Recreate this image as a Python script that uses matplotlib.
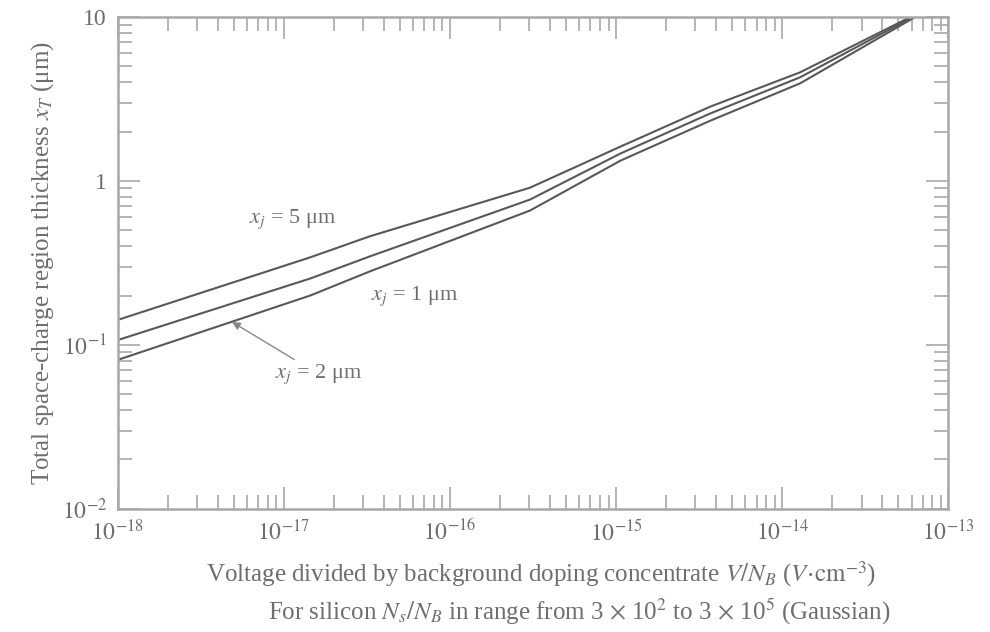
import matplotlib.pyplot as plt
import matplotlib.ticker as ticker
import numpy as np

plt.rcParams['font.family'] = ['Liberation Serif', 'DejaVu Serif']
plt.rcParams['mathtext.fontset'] = 'stix'

# values (x: V/N_B in V*cm^3, y: x_T in um)
x_5um = [1e-18, 1.44e-17, 3.30e-17, 3.03e-16, 1.06e-15, 3.68e-15, 1.28e-14, 5.9e-14]
y_5um = [0.142, 0.342, 0.460, 0.910, 1.62, 2.84, 4.60, 10.0]

x_2um = [1e-18, 1.44e-17, 3.30e-17, 3.03e-16, 1.06e-15, 3.68e-15, 1.28e-14, 6.1e-14]
y_2um = [0.107, 0.254, 0.347, 0.770, 1.47, 2.58, 4.29, 10.0]

x_1um = [1e-18, 1.44e-17, 3.30e-17, 3.03e-16, 1.06e-15, 3.68e-15, 1.28e-14, 6.3e-14]
y_1um = [0.081, 0.200, 0.281, 0.660, 1.33, 2.33, 3.94, 10.0]

x_ticks = [1e-18, 1e-17, 1e-16, 1e-15, 1e-14, 1e-13]
y_ticks = [1e-2, 1e-1, 1, 10]

text_col = '#6e6e6e'
line_col = '#585858'
axis_col = '#a8a8a8'

fig = plt.figure(figsize=(9.9, 6.32), dpi=100)
ax = fig.add_axes([0.119, 0.195, 0.839, 0.778])

ax.plot(x_5um, y_5um, color=line_col, lw=1.5)
ax.plot(x_2um, y_2um, color=line_col, lw=1.5)
ax.plot(x_1um, y_1um, color=line_col, lw=1.5)

ax.set_xscale('log')
ax.set_yscale('log')
ax.set_xlim(1e-18, 1e-13)
ax.set_ylim(1e-2, 10)


def y_fmt(v, pos):
    if v >= 1:
        return '%d' % round(v)
    return r'$10^{%d}$' % round(np.log10(v))


def x_fmt(v, pos):
    return r'$10^{%d}$' % round(np.log10(v))


ax.xaxis.set_major_locator(ticker.FixedLocator(x_ticks))
ax.yaxis.set_major_locator(ticker.FixedLocator(y_ticks))
ax.xaxis.set_minor_locator(ticker.LogLocator(base=10, subs=np.arange(2, 10), numticks=20))
ax.yaxis.set_minor_locator(ticker.LogLocator(base=10, subs=np.arange(2, 10), numticks=20))
ax.xaxis.set_major_formatter(ticker.FuncFormatter(x_fmt))
ax.yaxis.set_major_formatter(ticker.FuncFormatter(y_fmt))
ax.xaxis.set_minor_formatter(ticker.NullFormatter())
ax.yaxis.set_minor_formatter(ticker.NullFormatter())

ax.tick_params(which='both', direction='in', top=True, right=True,
               color=axis_col, labelcolor=text_col, labelsize=17, width=1.2)
ax.tick_params(which='major', length=16, pad=8)
ax.tick_params(which='minor', length=10)
for s in ax.spines.values():
    s.set_color(axis_col)
    s.set_linewidth(1.8)

ax.set_ylabel('Total space-charge region thickness $x_T$ (μm)',
              fontsize=18, color=text_col, labelpad=4)
ax.set_xlabel(r'Voltage divided by background doping concentrate $V/N_B$ ($V\!\cdot\!\mathrm{cm}^{-3}$)',
              fontsize=18, color=text_col)
ax.xaxis.set_label_coords(0.51, -0.103)
fig.text(0.585, 0.032,
         r'For silicon $N_s/N_B$ in range from 3 $\times$ 10$^2$ to 3 $\times$ 10$^5$ (Gaussian)',
         ha='center', va='center', fontsize=18, color=text_col)

ax.text(1.13e-17, 0.585, '$x_j$ = 5 μm', fontsize=16, color=text_col,
        ha='center', va='center')
ax.text(6.15e-17, 0.197, '$x_j$ = 1 μm', fontsize=16, color=text_col,
        ha='center', va='center')
ax.annotate('$x_j$ = 2 μm', xy=(4.87e-18, 0.138), xytext=(8.8e-18, 0.0664),
            fontsize=16, color=text_col, ha='left', va='center',
            arrowprops=dict(arrowstyle='-|>', color='#888888', lw=1.0,
                            shrinkA=0, shrinkB=0, mutation_scale=12))

fig.savefig('out.png', dpi=100, facecolor='white')
